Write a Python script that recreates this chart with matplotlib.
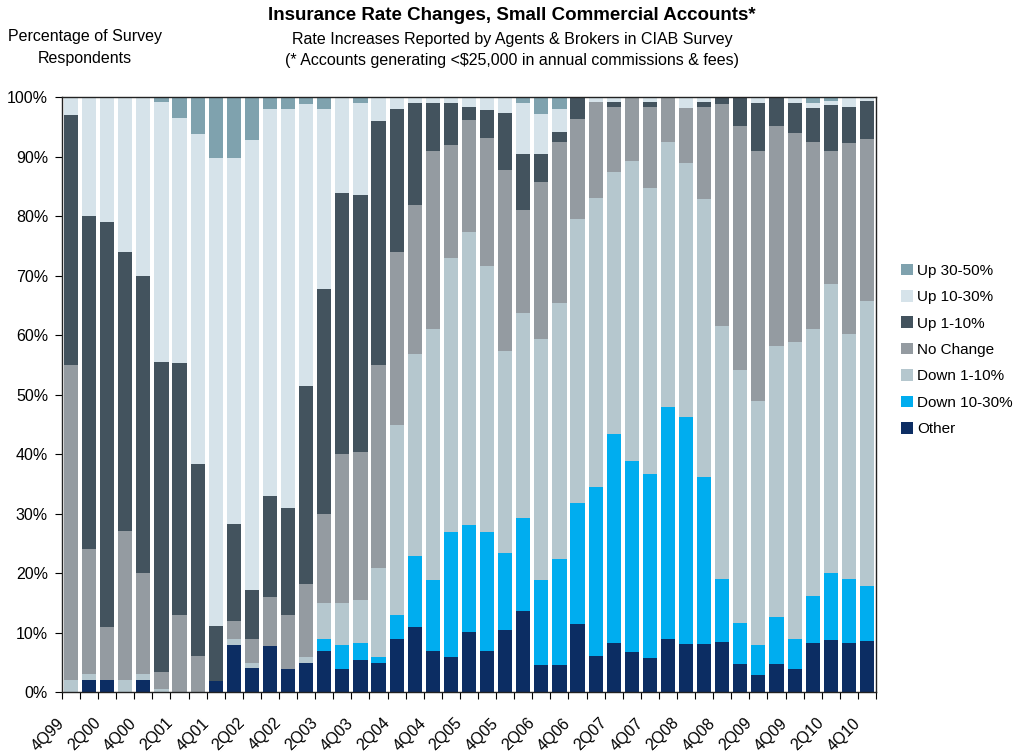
import numpy as np
import matplotlib.pyplot as plt
from matplotlib.patches import Patch

quarters = ['4Q99',
            '1Q00', '2Q00', '3Q00', '4Q00',
            '1Q01', '2Q01', '3Q01', '4Q01',
            '1Q02', '2Q02', '3Q02', '4Q02',
            '1Q03', '2Q03', '3Q03', '4Q03',
            '1Q04', '2Q04', '3Q04', '4Q04',
            '1Q05', '2Q05', '3Q05', '4Q05',
            '1Q06', '2Q06', '3Q06', '4Q06',
            '1Q07', '2Q07', '3Q07', '4Q07',
            '1Q08', '2Q08', '3Q08', '4Q08',
            '1Q09', '2Q09', '3Q09', '4Q09',
            '1Q10', '2Q10', '3Q10', '4Q10']

# percent of respondents per quarter, bottom of the stack first
other = [0, 2, 2, 0, 2, 0, 0, 0, 1.8, 7.9, 4.1, 7.8, 3.9, 4.9, 6.9, 3.9, 5.4,
         4.9, 8.9, 10.9, 6.9, 5.9, 10.1, 6.9, 10.4, 13.6, 4.5, 4.5, 11.4, 6.1,
         8.3, 6.7, 5.7, 8.9, 8.0, 8.0, 8.4, 4.7, 2.9, 4.7, 3.9, 8.2, 8.8, 8.2, 8.6]
down_10_30 = [0, 0, 0, 0, 0, 0, 0, 0, 0, 0, 0, 0, 0, 0, 2, 4, 2.8,
              1, 4, 12, 11.9, 21, 17.9, 20, 12.9, 15.6, 14.3, 17.9, 20.4, 28.3,
              35, 32.1, 30.9, 39, 38.2, 28.1, 10.6, 6.9, 5, 7.9, 5, 7.9, 11.2, 10.8, 9.2]
down_1_10 = [2, 1, 0, 2, 1, 0.5, 0, 0, 0, 1.0, 0.8, 0, 0, 1, 6.1, 7.1, 7.2,
             14.9, 31.9, 34, 42.2, 46, 49.3, 44.7, 34, 34.5, 40.5, 43, 47.7, 48.7,
             44.1, 50.4, 48.2, 44.5, 42.8, 46.7, 42.6, 42.6, 41, 45.5, 50, 44.9, 48.6, 41.1, 47.9]
no_change = [53, 21, 9, 25, 17, 2.9, 13, 6, 0, 3.0, 4.0, 8.1, 9, 12.3, 14.9, 25, 24.9,
             34.2, 29.1, 24.9, 29.9, 19, 18.8, 21.5, 30.4, 17.3, 26.4, 27, 16.8, 16,
             11, 10.8, 13.6, 7.6, 9.2, 15.6, 37.2, 40.9, 42, 37, 35, 31.4, 22.4, 32.1, 27.2]
up_1_10 = [42, 56, 68, 47, 50, 52, 42.3, 32.4, 9.3, 16.3, 8.2, 17, 18, 33.2, 37.9, 43.9, 43.2,
           40.9, 24.1, 17.2, 8.1, 7.1, 2.2, 4.7, 9.6, 9.4, 4.7, 1.8, 3.8, 0,
           0.8, 0, 0.8, 0, 0, 0.8, 1.3, 5.0, 8.1, 5.0, 5.1, 5.8, 7.6, 6.1, 6.4]
up_10_30 = [3, 20, 21, 26, 30, 43.8, 41.2, 55.4, 78.6, 61.5, 75.7, 65.1, 67.1, 47.4, 30.2, 16.1, 15.5,
            4.1, 2.1, 1.1, 1.1, 1.1, 1.8, 2.3, 2.8, 8.6, 6.7, 3.8, 0, 1.1,
            1.0, 0, 1.0, 0, 2.0, 1.0, 0, 0, 1.1, 0, 1.1, 0.8, 0.7, 1.8, 0.7]
up_30_50 = [0, 0, 0, 0, 0, 0.7, 3.4, 6.3, 10.3, 10.3, 7.2, 2, 2, 1.2, 2, 0, 1,
            0, 0, 0, 0, 0, 0, 0, 0, 1.1, 3.0, 2.1, 0, 0,
            0, 0, 0, 0, 0, 0, 0, 0, 0, 0, 0, 1.1, 0.8, 0, 0]

series = [('Other', other, '#0c2d63'),
          ('Down 10-30%', down_10_30, '#00adef'),
          ('Down 1-10%', down_1_10, '#b5c7ce'),
          ('No Change', no_change, '#949ba1'),
          ('Up 1-10%', up_1_10, '#43535e'),
          ('Up 10-30%', up_10_30, '#d6e3ea'),
          ('Up 30-50%', up_30_50, '#7fa2ae')]

plt.rcParams['font.family'] = ['Liberation Sans', 'DejaVu Sans']

fig = plt.figure(figsize=(10.24, 7.55), dpi=100)
ax = fig.add_axes([0.0605, 0.0834, 0.795, 0.788])

x = np.arange(len(quarters))
bottom = np.zeros(len(quarters))
for name, vals, col in series:
    vals = np.array(vals, dtype=float)
    ax.bar(x, vals, width=0.78, bottom=bottom, color=col, linewidth=0)
    bottom += vals

ax.set_xlim(-0.5, len(quarters) - 0.5)
ax.set_ylim(0, 100)
ax.set_yticks(np.arange(0, 101, 10))
ax.set_yticklabels([f'{v}%' for v in range(0, 101, 10)], fontsize=11.5)

# ticks sit on the bar boundaries, labels on every second bar
ax.set_xticks(np.arange(-0.5, len(quarters), 1.0))
ax.set_xticklabels([])
ax.tick_params(axis='x', length=5, width=0.8, direction='out')
ax.tick_params(axis='y', length=5, width=0.8, direction='out', pad=5)
for i in range(0, len(quarters), 2):
    ax.text(i - 0.8, -3.9, quarters[i], rotation=45, ha='right', va='top',
            rotation_mode='anchor', fontsize=11.5)

for s in ax.spines.values():
    s.set_linewidth(1.0)
    s.set_color('#222222')

fig.text(0.5, 0.979, 'Insurance Rate Changes, Small Commercial Accounts*',
         ha='center', va='center', fontsize=13.5, fontweight='bold')
fig.text(0.5, 0.948, 'Rate Increases Reported by Agents & Brokers in CIAB Survey',
         ha='center', va='center', fontsize=11.5)
fig.text(0.5, 0.920, '(* Accounts generating <$25,000 in annual commissions & fees)',
         ha='center', va='center', fontsize=11.5)
fig.text(0.083, 0.937, 'Percentage of Survey\nRespondents', ha='center', va='center',
         fontsize=11.5, linespacing=1.6)

handles = [Patch(facecolor=col, label=name) for name, _, col in series[::-1]]
fig.legend(handles=handles, loc='upper left', bbox_to_anchor=(0.866, 0.669),
           frameon=False, fontsize=11, handlelength=0.8, handleheight=0.8,
           handletextpad=0.3, labelspacing=0.8)

fig.savefig('out.png', dpi=100)
